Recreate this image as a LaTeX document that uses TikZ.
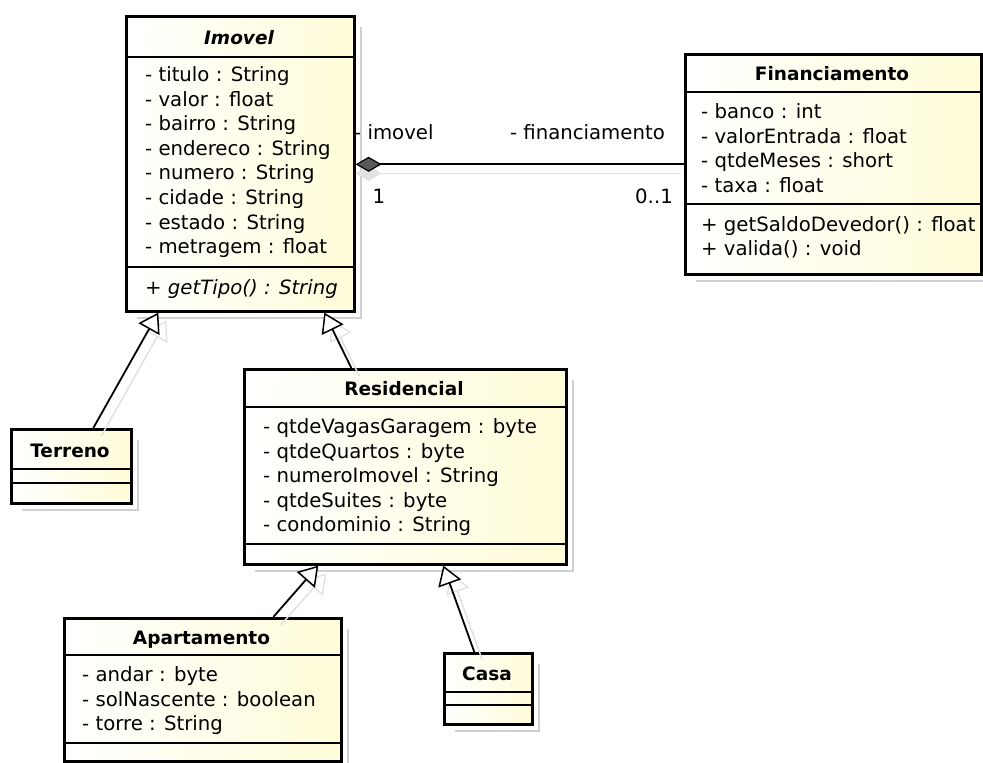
\documentclass[tikz,border=0pt]{standalone}
\usepackage{fontspec}
\setmainfont{DejaVu Sans}
\usetikzlibrary{arrows.meta}
\definecolor{uy}{RGB}{255,252,216}
\definecolor{shd}{RGB}{208,208,208}
\definecolor{ghost}{RGB}{225,225,225}
\begin{document}
\begin{tikzpicture}[x=1pt,y=-1pt,
  classbox/.style={draw=black, line width=2.6pt, left color=white, right color=uy,
    anchor=north west, inner sep=0pt, outer sep=1.3pt},
  sepline/.style={line width=1.3pt},
  attr/.style={anchor=base west, inner sep=0pt, font=\fontsize{19.7}{23}\selectfont},
  ttl/.style={anchor=base, inner sep=0pt, font=\fontsize{18.5}{22}\selectfont\bfseries},
  lbl/.style={inner sep=0pt, font=\fontsize{19.7}{23}\selectfont},
  boxshadow/.style={draw=shd, line width=2pt},
  gen/.style={line width=1.8pt, -{Triangle[fill=white, length=19pt, width=24pt, line width=1.5pt]}},
  genghost/.style={draw=ghost, line width=1.5pt, -{Triangle[fill=white, length=19pt, width=24pt, line width=1.3pt]}},
  agg/.style={line width=1.8pt, {Diamond[fill=black!65, length=26pt, width=15pt, line width=1.2pt]}-},
  aggghost/.style={draw=ghost, line width=1.5pt, {Diamond[fill=ghost, length=26pt, width=15pt]}-}
]
\fill[white] (0,0) rectangle (983,763);
\useasboundingbox (0,0) rectangle (983,763);

% ---------- shadows of boxes ----------
\draw[boxshadow] (361,27) -- (361,318) -- (137,318);
\draw[boxshadow] (988,65) -- (988,281) -- (696,281);
\draw[boxshadow] (573,380) -- (573,571) -- (255,571);
\draw[boxshadow] (138,440) -- (138,510) -- (22,510);
\draw[boxshadow] (348,629) -- (348,768) -- (75,768);
\draw[boxshadow] (539,664) -- (539,731) -- (455,731);

% ---------- boxes ----------
\node[classbox, minimum width=228pt, minimum height=295pt] (imovel) at (125,15) {};
\node[classbox, minimum width=296pt, minimum height=220pt] (financiamento) at (684,53) {};
\node[classbox, minimum width=322pt, minimum height=195pt] (residencial) at (243,368) {};
\node[classbox, minimum width=120pt, minimum height=74pt] (terreno) at (10,428) {};
\node[classbox, minimum width=277pt, minimum height=143pt] (apartamento) at (63,617) {};
\node[classbox, minimum width=88pt, minimum height=71pt] (casa) at (443,652) {};

% ---------- compartment separators ----------
\draw[sepline] (125,57) -- (353,57);
\draw[sepline] (125,267) -- (353,267);
\draw[sepline] (684,92) -- (980,92);
\draw[sepline] (684,204) -- (980,204);
\draw[sepline] (243,407) -- (565,407);
\draw[sepline] (243,544) -- (565,544);
\draw[sepline] (10,469) -- (130,469);
\draw[sepline] (10,483) -- (130,483);
\draw[sepline] (63,655) -- (340,655);
\draw[sepline] (63,743) -- (340,743);
\draw[sepline] (443,692) -- (531,692);
\draw[sepline] (443,705) -- (531,705);

% ---------- Imovel ----------
\node[ttl, font=\fontsize{18.5}{22}\selectfont\bfseries\itshape] (imovel-t) at (239,44) {Imovel};
\foreach \t [count=\i from 0] in {- titulo : String, - valor : float, - bairro : String,
  - endereco : String, - numero : String, - cidade : String, - estado : String, - metragem : float}
  \node[attr] (imovel-a\i) at (145,81.5+24.6*\i) {\t};
\node[attr, font=\fontsize{19.7}{23}\selectfont\itshape] (imovel-o0) at (145,294.5) {+ getTipo() : String};

% ---------- Financiamento ----------
\node[ttl] (financiamento-t) at (832,80) {Financiamento};
\foreach \t [count=\i from 0] in {- banco : int, - valorEntrada : float, - qtdeMeses : short, - taxa : float}
  \node[attr] (financiamento-a\i) at (701,118.5+24.5*\i) {\t};
\node[attr] (financiamento-o0) at (701,231.5) {+ getSaldoDevedor() : float};
\node[attr] (financiamento-o1) at (701,255.5) {+ valida() : void};

% ---------- Residencial ----------
\node[ttl] (residencial-t) at (404,395) {Residencial};
\foreach \t [count=\i from 0] in {- qtdeVagasGaragem : byte, - qtdeQuartos : byte,
  - numeroImovel : String, - qtdeSuites : byte, - condominio : String}
  \node[attr] (residencial-a\i) at (263,433.5+24.5*\i) {\t};

% ---------- Terreno ----------
\node[ttl] (terreno-t) at (70,457) {Terreno};

% ---------- Apartamento ----------
\node[ttl] (apartamento-t) at (201.5,644) {Apartamento};
\foreach \t [count=\i from 0] in {- andar : byte, - solNascente : boolean, - torre : String}
  \node[attr] (apartamento-a\i) at (82,681.5+24.5*\i) {\t};

% ---------- Casa ----------
\node[ttl] (casa-t) at (487,680) {Casa};

% ---------- connector ghosts ----------
\draw[genghost] ([shift={(30,8)}]terreno.north) -- ([shift={(-74,8)}]imovel.south);
\draw[genghost] ([shift={(-46,8)}]residencial.north) -- ([shift={(92,8)}]imovel.south);
\draw[genghost] ([shift={(78,8)}]apartamento.north) -- ([shift={(-79,8)}]residencial.south);
\draw[genghost] ([shift={(-6,8)}]casa.north) -- ([shift={(46,8)}]residencial.south);
\draw[aggghost] ([shift={(0,9)}]imovel.east |- financiamento.west) -- ([shift={(-3,9)}]financiamento.west);

% ---------- connectors ----------
\draw[gen] ([xshift=22pt]terreno.north) -- ([xshift=-82pt]imovel.south);
\draw[gen] ([xshift=-54pt]residencial.north) -- ([xshift=84pt]imovel.south);
\draw[gen] ([xshift=70.5pt]apartamento.north) -- ([xshift=-87pt]residencial.south);
\draw[gen] ([xshift=-14pt]casa.north) -- ([xshift=38pt]residencial.south);
\draw[agg] (imovel.east |- financiamento.west) -- (financiamento.west);

% ---------- association labels ----------
\node[lbl, anchor=base west] (lbl-imovel) at (354,139.5) {- imovel};
\node[lbl, anchor=base east] (lbl-fin) at (665,139.5) {- financiamento};
\node[lbl, anchor=base] (lbl-one) at (379,203.5) {1};
\node[lbl, anchor=base east] (lbl-zeroone) at (673,203.5) {0..1};
\end{tikzpicture}
\end{document}
